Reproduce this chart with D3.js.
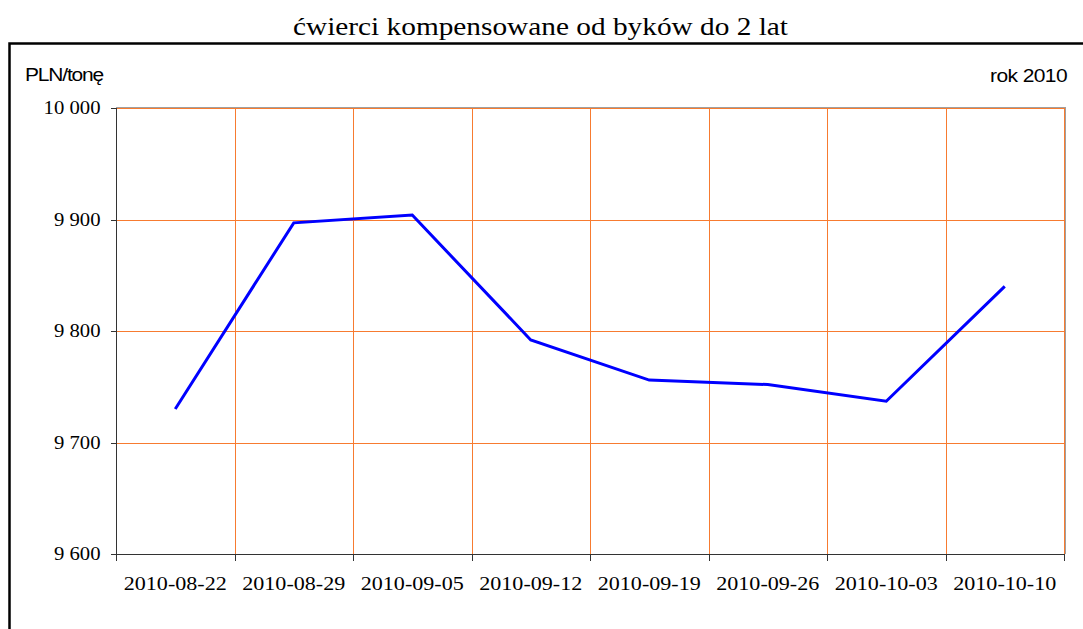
<!DOCTYPE html>
<html><head><meta charset="utf-8">
<script src="https://cdn.jsdelivr.net/npm/d3@7"></script>
<style>body{margin:0;background:#fff}svg{display:block}</style>
</head><body>
<script>
const categories = ["2010-08-22","2010-08-29","2010-09-05","2010-09-12","2010-09-19","2010-09-26","2010-10-03","2010-10-10"];
const values = [9730, 9897, 9904, 9792, 9756, 9752, 9737, 9840];
const yTicks = [9600, 9700, 9800, 9900, 10000];
const title = "ćwierci kompensowane od byków do 2 lat";
const unitLabel = "PLN/tonę";
const yearLabel = "rok 2010";

const W = 1083, H = 629;
const m = {left:116, right:1064, top:108, bottom:554};
const svg = d3.select("body").append("svg").attr("width", W).attr("height", H);
const serif = "Liberation Serif, Times New Roman, serif";
const sans = "Liberation Sans, Arial, sans-serif";

function stretch(sel, f) {
  sel.each(function() {
    const len = this.getComputedTextLength();
    d3.select(this).attr("textLength", len * f).attr("lengthAdjust", "spacingAndGlyphs");
  });
}

svg.append("rect").attr("x", 9.5).attr("y", 43.5).attr("width", 1200).attr("height", 700)
  .attr("fill", "none").attr("stroke", "#000").attr("stroke-width", 2.5);

svg.append("text").attr("x", 540.5).attr("y", 35).attr("text-anchor", "middle")
  .attr("font-family", serif).attr("font-size", 26).text(title)
  .attr("textLength", 495).attr("lengthAdjust", "spacingAndGlyphs");

svg.append("text").attr("x", 25).attr("y", 81)
  .attr("font-family", sans).attr("font-size", 18).attr("letter-spacing", -1).text(unitLabel)
  .attr("textLength", 78).attr("lengthAdjust", "spacingAndGlyphs");
svg.append("text").attr("x", 1067).attr("y", 82).attr("text-anchor", "end")
  .attr("font-family", sans).attr("font-size", 18).attr("letter-spacing", -0.5).text(yearLabel)
  .attr("textLength", 77).attr("lengthAdjust", "spacingAndGlyphs");

const x = d3.scaleBand().domain(categories).range([m.left, m.right]).padding(0);
const y = d3.scaleLinear().domain([9600, 10000]).range([m.bottom, m.top]);

const grid = svg.append("g").attr("shape-rendering", "crispEdges");
const orange = "#f77b30";
grid.selectAll("line.h").data(yTicks.filter(v => v > 9600)).enter().append("line")
  .attr("x1", m.left).attr("x2", m.right)
  .attr("y1", d => Math.round(y(d)) + 0.5).attr("y2", d => Math.round(y(d)) + 0.5)
  .attr("stroke", orange).attr("stroke-width", 1);
const bounds = categories.slice(1).map(c => x(c)).concat([m.right]);
grid.selectAll("line.v").data(bounds).enter().append("line")
  .attr("x1", d => Math.round(d) + 0.5).attr("x2", d => Math.round(d) + 0.5)
  .attr("y1", m.top).attr("y2", m.bottom)
  .attr("stroke", orange).attr("stroke-width", 1);
grid.append("line").attr("x1", m.left).attr("x2", m.right + 1).attr("y1", m.top - 0.5).attr("y2", m.top - 0.5)
  .attr("stroke", "#a0a0a0");
grid.append("line").attr("x1", m.right + 1.5).attr("x2", m.right + 1.5).attr("y1", m.top - 1).attr("y2", m.bottom)
  .attr("stroke", "#a0a0a0");

const yAxis = svg.append("g").attr("transform", `translate(${m.left + 0.5},0)`)
  .call(d3.axisLeft(y).tickValues(yTicks).tickSize(6).tickPadding(10)
    .tickFormat(d => d3.format(",")(d).replace(/,/g, " ")));
yAxis.selectAll("path,line").attr("stroke", "#333").attr("shape-rendering", "crispEdges");
yAxis.select(".domain").attr("d", `M0,${m.top}V${m.bottom}`);
yAxis.selectAll("text").attr("font-family", serif).attr("font-size", 18).attr("fill", "#000")
  .call(stretch, 1.15);

const xAxis = svg.append("g").attr("transform", `translate(0,${m.bottom + 0.5})`);
xAxis.append("line").attr("x1", m.left).attr("x2", m.right + 1).attr("y1", 0).attr("y2", 0)
  .attr("stroke", "#333").attr("shape-rendering", "crispEdges");
xAxis.selectAll("line.t").data([m.left].concat(bounds)).enter().append("line")
  .attr("x1", d => Math.round(d) + 0.5).attr("x2", d => Math.round(d) + 0.5)
  .attr("y1", 0).attr("y2", 6).attr("stroke", "#333").attr("shape-rendering", "crispEdges");
xAxis.selectAll("text").data(categories).enter().append("text")
  .attr("x", d => x(d) + x.bandwidth() / 2).attr("y", 35.5).attr("text-anchor", "middle")
  .attr("font-family", serif).attr("font-size", 19)
  .text(d => d)
  .attr("textLength", 103).attr("lengthAdjust", "spacingAndGlyphs");

const line = d3.line().x((d, i) => x(categories[i]) + x.bandwidth() / 2).y(d => y(d));
svg.append("path").datum(values).attr("d", line)
  .attr("fill", "none").attr("stroke", "#0000ff").attr("stroke-width", 3).attr("stroke-linejoin", "miter");
</script>
</body></html>
